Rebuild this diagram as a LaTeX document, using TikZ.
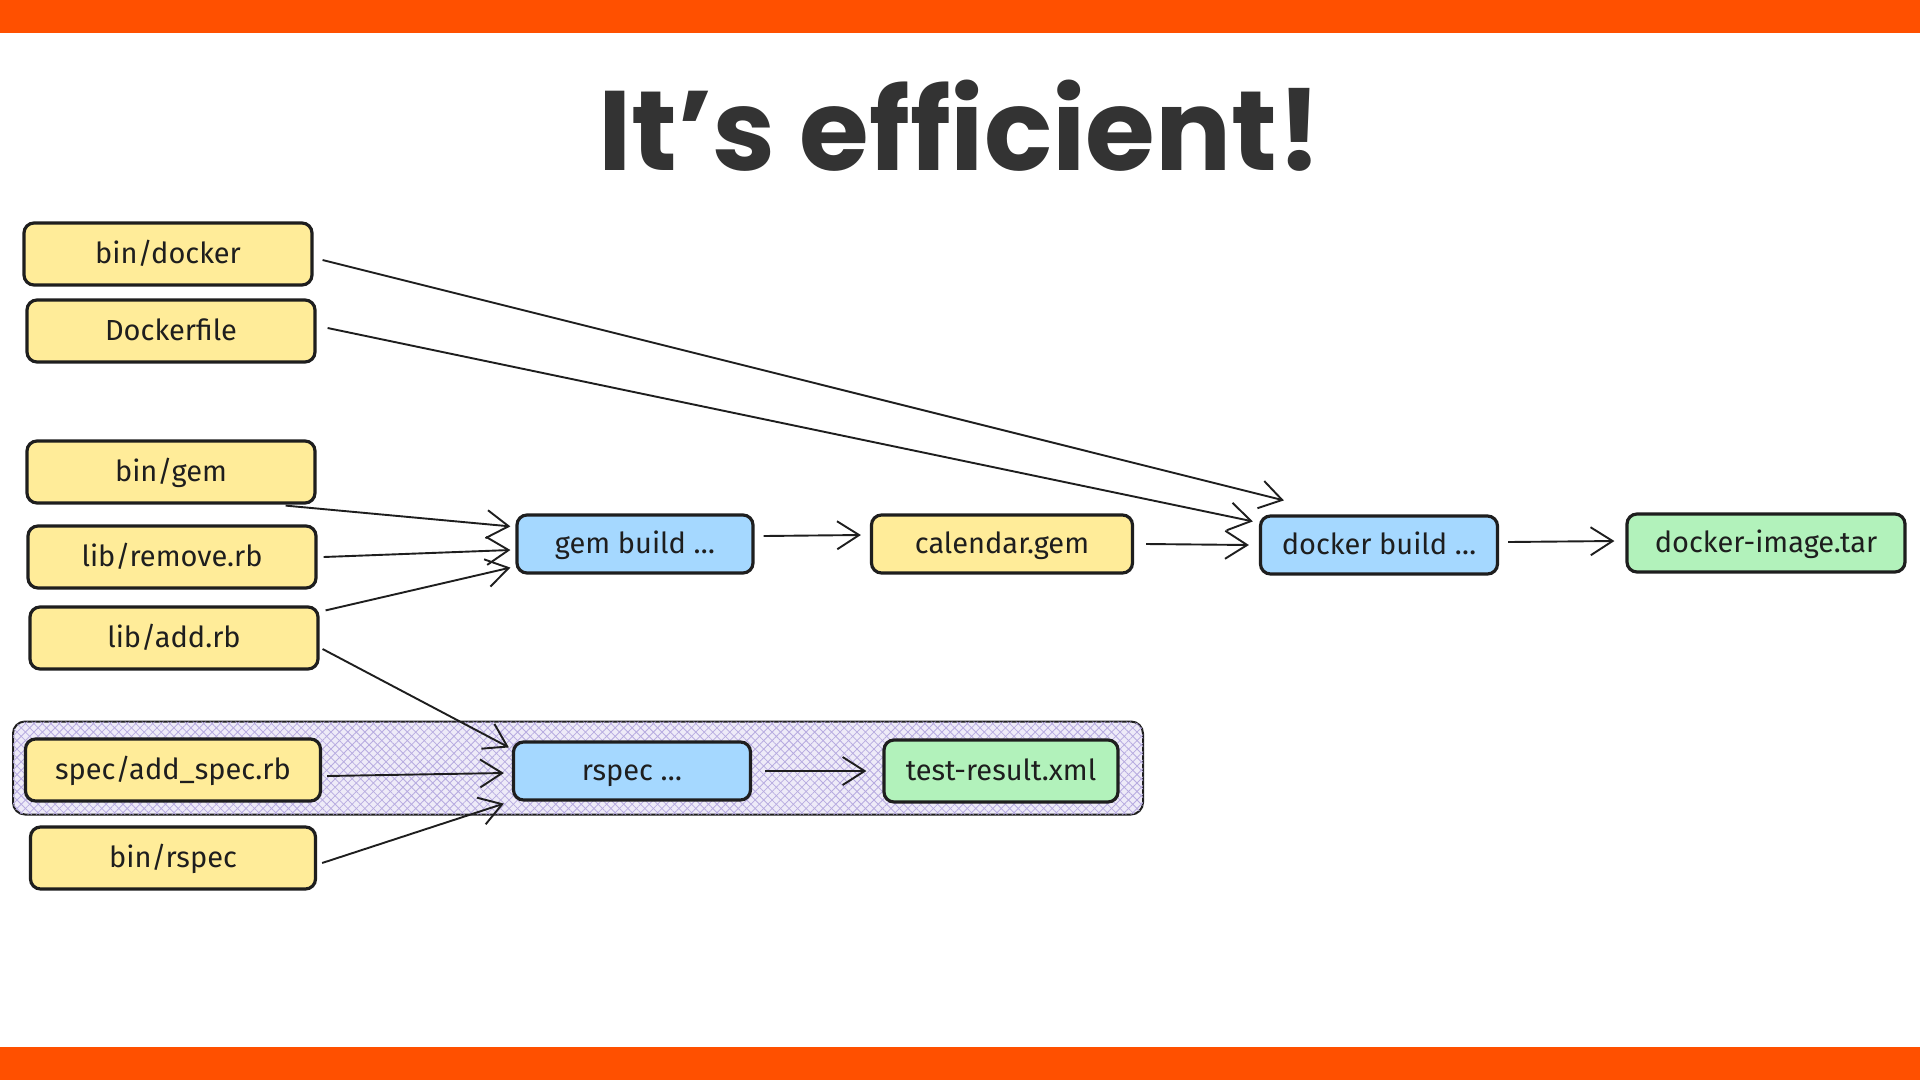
\documentclass[tikz,border=0pt]{standalone}
\usepackage{fontspec}
\setmainfont{Fira Sans}
\newfontfamily\titlefont{Poppins}
\usepackage{tikz}
\usetikzlibrary{positioning,arrows.meta,patterns.meta}

\definecolor{bandorange}{HTML}{FF5000}
\definecolor{titlegray}{HTML}{333333}
\definecolor{inkdark}{HTML}{1E1E1E}
\definecolor{fileyellow}{HTML}{FFEC99}
\definecolor{stepblue}{HTML}{A5D8FF}
\definecolor{outgreen}{HTML}{B2F2BB}
\definecolor{grouplav}{HTML}{EEEBF8}
\definecolor{hatchlav}{HTML}{B7ABE0}

\begin{document}
\begin{tikzpicture}[x=1pt, y=-1pt, >={Straight Barb[length=22pt,width=28pt]},
    every node/.style={font=\fontsize{29}{34}\selectfont, text=inkdark},
    box/.style={draw=inkdark, line width=3.2pt, rounded corners=10pt, align=center, text height=23pt, text depth=4pt},
    filebox/.style={box, fill=fileyellow, minimum width=288pt, minimum height=62pt},
    stepbox/.style={box, fill=stepblue, minimum width=236pt, minimum height=58pt},
    outbox/.style={box, fill=outgreen, minimum height=58pt},
    conn/.style={->, line width=1.9pt, draw=inkdark}]
  \useasboundingbox (0,0) rectangle (1920,1080);
  \fill[white] (0,0) rectangle (1920,1080);
  \fill[bandorange] (0,0) rectangle (1920,33);
  \fill[bandorange] (0,1047) rectangle (1920,1080);

  \node[font=\titlefont\bfseries\fontsize{113}{120}\selectfont, text=titlegray] (title) at (960,126) {It’s efficient!};

  % rspec group
  \node[draw=inkdark, line width=2pt, rounded corners=12pt, fill=grouplav,
        postaction={pattern={Lines[angle=45,distance=6pt,line width=0.8pt]}, pattern color=hatchlav},
        postaction={pattern={Lines[angle=-45,distance=6pt,line width=0.8pt]}, pattern color=hatchlav},
        minimum width=1130pt, minimum height=93pt] (group) at (578,768) {};

  % inputs
  \node[filebox] (bindocker) at (168,254) {bin/docker};
  \node[filebox] (dockerfile) at (171,331) {Dockerfile};
  \node[filebox] (bingem) at (171,472) {bin/gem};
  \node[filebox] (libremove) at (172,557) {lib/remove.rb};
  \node[filebox] (libadd) at (174,638) {lib/add.rb};
  \node[filebox, minimum width=295pt] (specadd) at (173,770) {spec/add\_spec.rb};
  \node[filebox, minimum width=285pt] (binrspec) at (173,858) {bin/rspec};

  % steps and outputs
  \node[stepbox] (gembuild) at (635,544) {gem build \dots};
  \node[filebox, minimum width=261pt, minimum height=58pt] (calgem) at (1002,544) {calendar.gem};
  \node[stepbox, minimum width=237pt] (dockerbuild) at (1379,545) {docker build \dots};
  \node[outbox, minimum width=278pt] (dockertar) at (1766,543) {docker-image.tar};
  \node[stepbox, minimum width=237pt] (rspec) at (632,771) {rspec \dots};
  \node[outbox, minimum width=234pt, minimum height=62pt] (testxml) at (1001,771) {test-result.xml};

  \draw[conn] ([xshift=9pt,yshift=-6pt]bindocker.east) -- ([xshift=25pt,yshift=14pt]dockerbuild.north west);
  \draw[conn] ([xshift=11pt,yshift=3pt]dockerfile.east) -- ([xshift=-6pt,yshift=-7pt]dockerbuild.north west);
  \draw[conn] ([xshift=-31pt,yshift=-1pt]bingem.south east) -- ([xshift=-5pt,yshift=-13pt]gembuild.north west);
  \draw[conn] ([xshift=6pt]libremove.east) -- ([xshift=-5pt,yshift=-6pt]gembuild.west);
  \draw[conn] ([xshift=6pt,yshift=-5pt]libadd.north east) -- ([xshift=-5pt,yshift=7pt]gembuild.south west);
  \draw[conn] ([xshift=3pt,yshift=-11pt]libadd.east) -- ([xshift=-3pt,yshift=-7pt]rspec.north west);
  \draw[conn] ([xshift=5pt,yshift=-6pt]specadd.east) -- ([xshift=-8pt,yshift=-2pt]rspec.west);
  \draw[conn] ([xshift=5pt,yshift=-5pt]binrspec.east) -- ([xshift=-8pt,yshift=-2pt]rspec.south west);
  \draw[conn] ([xshift=9pt,yshift=8pt]gembuild.east) -- ([xshift=-9pt,yshift=9pt]calgem.west);
  \draw[conn] ([xshift=12pt]calgem.east) -- ([xshift=-10pt]dockerbuild.west);
  \draw[conn] ([xshift=9pt,yshift=3pt]dockerbuild.east) -- ([xshift=-11pt,yshift=2pt]dockertar.west);
  \draw[conn] ([xshift=13pt]rspec.east) -- ([xshift=-16pt]testxml.west);
\end{tikzpicture}
\end{document}
